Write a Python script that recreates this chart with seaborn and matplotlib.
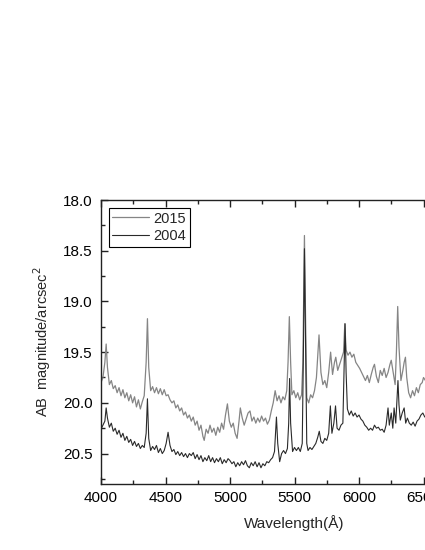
import pandas as pd
import matplotlib
matplotlib.use('Agg')
import matplotlib.pyplot as plt
from matplotlib.ticker import MultipleLocator
import seaborn as sns

# 2015 spectrum
wl_2015 = [4000, 4015, 4030, 4040, 4050, 4065, 4080, 4095, 4110, 4125, 4140, 4155, 4170, 4185,
           4200, 4215, 4230, 4245, 4260, 4275, 4290, 4305, 4320, 4335, 4350, 4360, 4370, 4385,
           4400, 4415, 4430, 4445, 4460, 4475, 4490, 4505, 4520, 4535, 4550, 4565, 4580, 4595,
           4610, 4625, 4640, 4655, 4670, 4685, 4700, 4715, 4730, 4745, 4760, 4775, 4790, 4800,
           4815, 4830, 4845, 4860, 4875, 4890, 4905, 4920, 4935, 4950, 4965, 4980, 4995, 5010,
           5025, 5040, 5055, 5070, 5080, 5095, 5110, 5125, 5140, 5155, 5170, 5185, 5200, 5215,
           5230, 5245, 5260, 5275, 5290, 5305, 5320, 5335, 5350, 5365, 5380, 5395, 5410, 5425,
           5440, 5450, 5460, 5470, 5480, 5495, 5510, 5525, 5540, 5555, 5565, 5577, 5585, 5595,
           5610, 5625, 5640, 5655, 5670, 5690, 5705, 5720, 5735, 5750, 5765, 5780, 5795, 5810,
           5820, 5835, 5850, 5865, 5880, 5890, 5900, 5915, 5930, 5945, 5960, 5975, 5990, 6005,
           6020, 6035, 6050, 6065, 6080, 6095, 6110, 6120, 6135, 6150, 6165, 6180, 6195, 6210,
           6225, 6240, 6250, 6265, 6280, 6290, 6300, 6310, 6325, 6340, 6350, 6360, 6370, 6385,
           6400, 6415, 6430, 6445, 6460, 6475, 6490, 6500, 6515]
mag_2015 = [19.80, 19.75, 19.60, 19.42, 19.65, 19.82, 19.78, 19.86, 19.83, 19.90, 19.85, 19.93, 19.87, 19.95,
            19.90, 19.98, 19.92, 20.00, 19.94, 20.04, 19.97, 20.06, 19.99, 19.93, 19.60, 19.17, 19.65, 19.88,
            19.84, 19.90, 19.85, 19.91, 19.86, 19.92, 19.87, 19.93, 19.92, 19.97, 20.00, 19.98, 20.05, 20.02,
            20.08, 20.05, 20.12, 20.09, 20.15, 20.12, 20.18, 20.14, 20.22, 20.18, 20.27, 20.22, 20.33, 20.37,
            20.26, 20.30, 20.22, 20.29, 20.25, 20.32, 20.24, 20.29, 20.20, 20.26, 20.12, 20.01, 20.18, 20.24,
            20.20, 20.30, 20.35, 20.18, 20.05, 20.15, 20.22, 20.16, 20.10, 20.08, 20.18, 20.14, 20.20, 20.15,
            20.19, 20.13, 20.18, 20.15, 20.21, 20.17, 20.08, 20.00, 19.88, 19.98, 19.93, 20.00, 19.94, 19.97,
            19.88, 19.60, 19.15, 19.60, 19.92, 19.88, 19.95, 19.90, 19.97, 19.92, 19.60, 18.35, 19.10, 19.95,
            20.00, 19.92, 19.95, 19.88, 19.75, 19.33, 19.70, 19.82, 19.78, 19.85, 19.70, 19.50, 19.72, 19.60,
            19.55, 19.68, 19.62, 19.56, 19.50, 19.22, 19.48, 19.53, 19.50, 19.55, 19.52, 19.60, 19.63, 19.66,
            19.70, 19.74, 19.78, 19.73, 19.80, 19.72, 19.65, 19.62, 19.74, 19.80, 19.68, 19.73, 19.66, 19.75,
            19.70, 19.62, 19.58, 19.70, 19.82, 19.50, 19.05, 19.45, 19.78, 19.68, 19.60, 19.55, 19.75, 19.90,
            19.95, 19.88, 19.93, 19.85, 19.90, 19.82, 19.80, 19.75, 19.78]

# 2004 spectrum
wl_2004 = [4000, 4015, 4030, 4040, 4050, 4065, 4080, 4095, 4110, 4125, 4140, 4155, 4170, 4185,
           4200, 4215, 4230, 4245, 4260, 4275, 4290, 4305, 4320, 4335, 4350, 4360, 4370, 4385,
           4400, 4415, 4430, 4445, 4460, 4475, 4490, 4505, 4520, 4535, 4550, 4565, 4580, 4595,
           4610, 4625, 4640, 4655, 4670, 4685, 4700, 4715, 4730, 4745, 4760, 4775, 4790, 4805,
           4820, 4835, 4850, 4865, 4880, 4895, 4910, 4925, 4940, 4955, 4970, 4985, 5000, 5015,
           5030, 5045, 5060, 5075, 5090, 5105, 5120, 5135, 5150, 5165, 5180, 5195, 5210, 5225,
           5240, 5255, 5270, 5285, 5300, 5315, 5330, 5345, 5360, 5370, 5385, 5400, 5415, 5430,
           5445, 5455, 5462, 5470, 5485, 5500, 5515, 5530, 5545, 5560, 5570, 5577, 5585, 5595,
           5605, 5620, 5635, 5650, 5665, 5680, 5692, 5705, 5720, 5735, 5750, 5765, 5778, 5790,
           5805, 5818, 5830, 5845, 5860, 5875, 5885, 5892, 5900, 5910, 5925, 5940, 5955, 5970,
           5985, 6000, 6015, 6030, 6045, 6060, 6075, 6090, 6105, 6120, 6135, 6150, 6165, 6180,
           6195, 6210, 6225, 6235, 6250, 6262, 6272, 6285, 6295, 6302, 6310, 6320, 6335, 6350,
           6362, 6375, 6390, 6405, 6420, 6435, 6450, 6465, 6480, 6495, 6510]
mag_2004 = [20.26, 20.22, 20.18, 20.05, 20.15, 20.24, 20.20, 20.28, 20.25, 20.31, 20.27, 20.34, 20.30, 20.37,
            20.33, 20.39, 20.36, 20.42, 20.38, 20.43, 20.40, 20.45, 20.42, 20.44, 20.30, 19.96, 20.35, 20.47,
            20.43, 20.46, 20.42, 20.49, 20.45, 20.50, 20.47, 20.40, 20.29, 20.42, 20.48, 20.46, 20.51, 20.48,
            20.52, 20.49, 20.53, 20.50, 20.54, 20.50, 20.52, 20.49, 20.55, 20.51, 20.56, 20.52, 20.58, 20.54,
            20.57, 20.52, 20.58, 20.54, 20.59, 20.55, 20.58, 20.54, 20.60, 20.56, 20.59, 20.55, 20.57, 20.60,
            20.58, 20.63, 20.59, 20.62, 20.58, 20.61, 20.57, 20.62, 20.64, 20.59, 20.62, 20.58, 20.63, 20.59,
            20.64, 20.60, 20.62, 20.58, 20.59, 20.56, 20.54, 20.48, 20.14, 20.40, 20.58, 20.50, 20.47, 20.50,
            20.45, 20.20, 19.76, 20.20, 20.48, 20.44, 20.47, 20.44, 20.48, 20.40, 19.40, 18.48, 19.30, 20.40,
            20.47, 20.44, 20.46, 20.43, 20.40, 20.34, 20.28, 20.38, 20.40, 20.35, 20.37, 20.30, 20.03, 20.30,
            20.20, 20.03, 20.25, 20.27, 20.22, 20.20, 19.60, 19.22, 19.70, 20.06, 20.12, 20.08, 20.13, 20.10,
            20.14, 20.12, 20.16, 20.18, 20.22, 20.24, 20.27, 20.25, 20.27, 20.22, 20.25, 20.24, 20.27, 20.26,
            20.29, 20.22, 20.05, 20.22, 20.10, 20.25, 20.05, 20.20, 19.95, 19.78, 20.02, 20.17, 20.10, 20.05,
            20.20, 20.15, 20.20, 20.22, 20.19, 20.23, 20.18, 20.16, 20.12, 20.10, 20.14]

series_names = ['2015', '2004']
series_colors = ['#858585', '#2a2a2a']

sns.set_style('ticks')
plt.rcParams['font.family'] = ['Liberation Sans', 'DejaVu Sans']

fig = plt.figure(figsize=(4.25, 5.5), dpi=100)
# axes runs past the right edge of the figure (cropped like the original)
ax = fig.add_axes([101 / 425, 66 / 550, 387 / 425, 284 / 550])

df15 = pd.DataFrame({'wl': wl_2015, 'mag': mag_2015})
df04 = pd.DataFrame({'wl': wl_2004, 'mag': mag_2004})
sns.lineplot(data=df15, x='wl', y='mag', ax=ax, color=series_colors[0], linewidth=0.9,
             estimator=None, label=series_names[0])
sns.lineplot(data=df04, x='wl', y='mag', ax=ax, color=series_colors[1], linewidth=0.8,
             estimator=None, label=series_names[1])

ax.set_xlim(4000, 7000)
ax.set_ylim(20.8, 18.0)
ax.xaxis.set_major_locator(MultipleLocator(500))
ax.xaxis.set_minor_locator(MultipleLocator(250))
ax.yaxis.set_major_locator(MultipleLocator(0.5))
ax.yaxis.set_minor_locator(MultipleLocator(0.25))
ax.tick_params(which='both', direction='in', top=True, right=True, width=1, colors='#222222',
               labelcolor='black', labelsize=11)
ax.tick_params(which='major', length=5)
ax.tick_params(axis='x', which='major', pad=5)
ax.tick_params(axis='y', which='major', pad=6)
ax.tick_params(which='minor', length=3)
for s in ax.spines.values():
    s.set_linewidth(1)
    s.set_color('#222222')

ax.set_xlabel('Wavelength(Å)', fontsize=11)
ax.set_ylabel('AB  magnitude/arcsec$^2$', fontsize=10.5)
ax.xaxis.set_label_coords(0.5, -0.11)
ax.yaxis.set_label_coords(-0.124, 0.5)

leg = ax.legend(loc='upper left', bbox_to_anchor=(0.02, 0.972), borderaxespad=0,
                fontsize=10.5, handlelength=2.5, frameon=True, fancybox=False,
                framealpha=1, edgecolor='black', borderpad=0.25, labelspacing=0.25,
                handletextpad=0.3)
leg.get_frame().set_linewidth(0.8)

fig.savefig('out.png', dpi=100)
